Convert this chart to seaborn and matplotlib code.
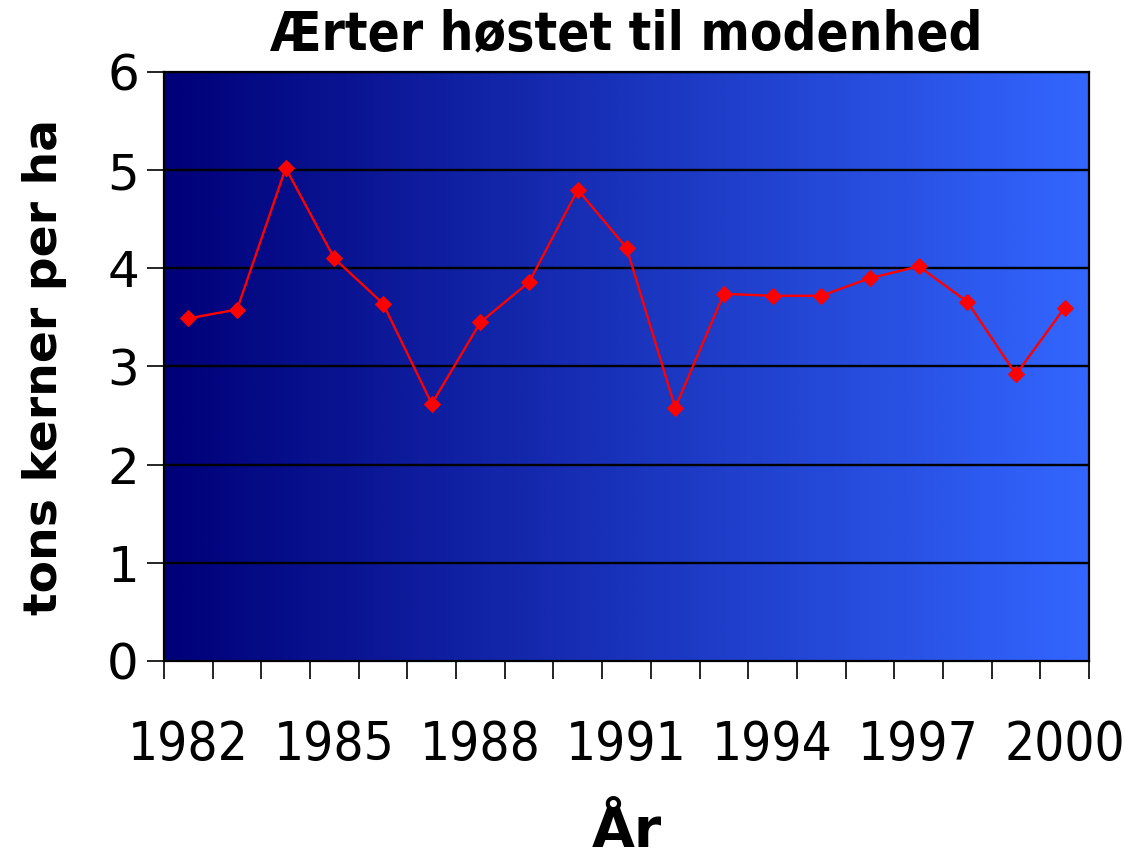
import numpy as np
import pandas as pd
import matplotlib
matplotlib.use("Agg")
import matplotlib.pyplot as plt
from matplotlib.colors import LinearSegmentedColormap
from matplotlib.ticker import FixedLocator
import seaborn as sns

# Data
aar = list(range(1982, 2001))
udbytte = [3.49, 3.58, 5.02, 4.10, 3.64, 2.62, 3.45, 3.86, 4.80, 4.21,
           2.58, 3.74, 3.72, 3.72, 3.90, 4.02, 3.66, 2.92, 3.60]
aar_labels = [1982, 1985, 1988, 1991, 1994, 1997, 2000]

titel = "Ærter høstet til modenhed"
x_titel = "År"
y_titel = "tons kerner per ha"

df = pd.DataFrame({"aar": aar, "udbytte": udbytte})

sns.set_style("white")
plt.rcParams["font.family"] = ["DejaVu Sans"]
plt.rcParams["text.color"] = "black"
plt.rcParams["axes.labelcolor"] = "black"
plt.rcParams["xtick.color"] = "black"
plt.rcParams["ytick.color"] = "black"

fig = plt.figure(figsize=(11.24, 8.63), dpi=100)
ax = fig.add_axes([0.1459, 0.2341, 0.9689 - 0.1459, 0.9166 - 0.2341])

# Gradient background (Excel style)
cmap = LinearSegmentedColormap.from_list("grad", ["#000078", "#3366ff"])
grad = np.linspace(0, 1, 512).reshape(1, -1)
ax.imshow(grad, cmap=cmap, aspect="auto", extent=[0, 1, 0, 1],
          transform=ax.transAxes, zorder=0)

sns.lineplot(data=df, x="aar", y="udbytte", ax=ax, color="#ff0000",
             linewidth=1.7, marker="D", markersize=8.5,
             markeredgecolor="#ff0000", zorder=3)

ax.set_xlim(1981.5, 2000.5)
ax.set_ylim(0, 6)

for yv in range(1, 7):
    ax.axhline(yv, color="black", linewidth=1.7, zorder=1)

for s in ax.spines.values():
    s.set_visible(True)
    s.set_color("black")
    s.set_linewidth(1.6)

ax.set_yticks(range(0, 7))
ax.tick_params(axis="y", direction="out", length=12, width=1.2,
               labelsize=36, pad=6, left=True)

ax.xaxis.set_major_locator(FixedLocator(aar_labels))
ax.set_xticklabels([str(a) for a in aar_labels])
ax.xaxis.set_minor_locator(FixedLocator(np.arange(1981.5, 2001, 1.0)))
ax.tick_params(axis="x", which="major", length=0, labelsize=38, pad=42)
ax.tick_params(axis="x", which="minor", direction="out", length=13,
               width=1.2, bottom=True)
for lbl in ax.get_xticklabels():
    lbl.set_fontstretch("condensed")

ax.set_xlabel(x_titel, fontsize=40, fontweight="bold", labelpad=24)
ax.set_ylabel(y_titel, fontsize=34, fontweight="bold", labelpad=29)
ax.set_title(titel, fontsize=38, fontweight="bold", pad=16,
             fontstretch="condensed")

fig.savefig("out.png", dpi=100)
